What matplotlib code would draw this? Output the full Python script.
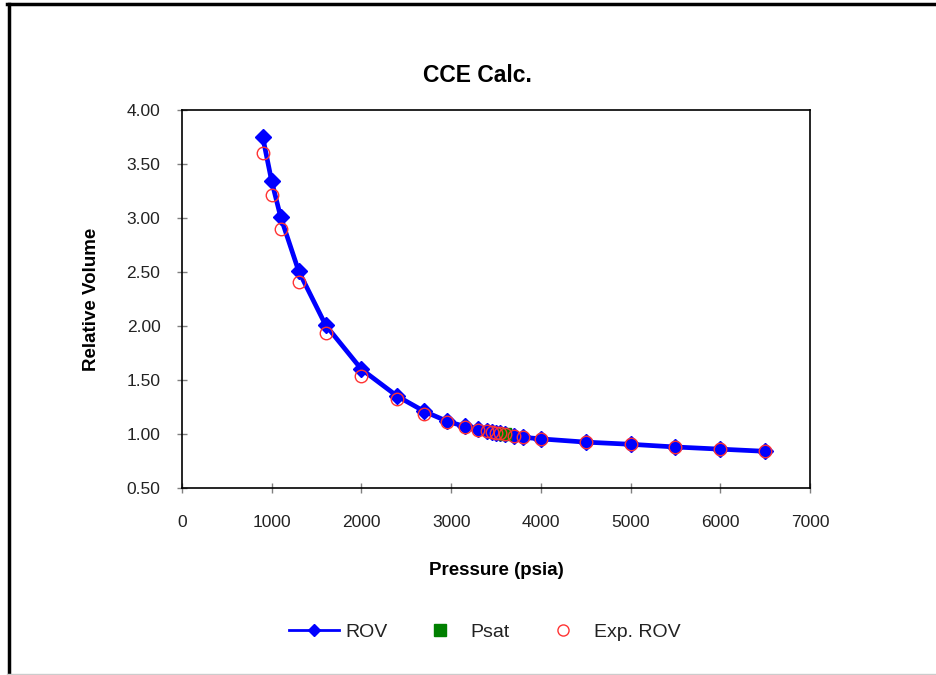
import matplotlib
matplotlib.use('Agg')
from matplotlib import pyplot as plt
from matplotlib.lines import Line2D

plt.rcParams['font.family'] = ['Liberation Sans', 'DejaVu Sans']

# calculated relative oil volume
pressure = [900, 1000, 1100, 1300, 1600, 2000, 2400, 2700, 2950, 3150, 3300,
            3400, 3450, 3500, 3550, 3600, 3700, 3800, 4000, 4500, 5000, 5500,
            6000, 6500]
rov = [3.75, 3.34, 3.01, 2.51, 2.01, 1.60, 1.35, 1.21, 1.12, 1.07, 1.045,
       1.03, 1.02, 1.01, 1.005, 1.00, 0.985, 0.97, 0.955, 0.925, 0.905, 0.88,
       0.86, 0.84]

# lab measurements
exp_rov = [3.60, 3.21, 2.90, 2.41, 1.94, 1.54, 1.32, 1.19, 1.11, 1.065, 1.04,
           1.03, 1.02, 1.01, 1.005, 1.00, 0.985, 0.97, 0.955, 0.925, 0.905,
           0.88, 0.86, 0.845]

psat_p = [3600]
psat_v = [1.00]

x_ticks = [0, 1000, 2000, 3000, 4000, 5000, 6000, 7000]
y_ticks = [0.5, 1.0, 1.5, 2.0, 2.5, 3.0, 3.5, 4.0]

fig = plt.figure(figsize=(9.37, 6.75), dpi=100)
ax = fig.add_axes([0.1942, 0.277, 0.6703, 0.560])

ax.plot(pressure, rov, color='#0000ff', lw=3.4, marker='D', ms=8,
        mfc='#0000ff', mec='#0000ff', zorder=2)
ax.plot(psat_p, psat_v, ls='none', marker='s', ms=9, color='#008000',
        zorder=3)
ax.plot(pressure, exp_rov, ls='none', marker='o', ms=9, mfc='none',
        mec='#ff3333', mew=1.0, zorder=4)

ax.set_xlim(0, 7000)
ax.set_ylim(0.5, 4.0)
ax.set_xticks(x_ticks)
ax.set_yticks(y_ticks)
ax.set_yticklabels([f'{v:.2f}' for v in y_ticks])
ax.tick_params(direction='inout', length=7, width=1, color='#808080',
               labelsize=12.5, labelcolor='#222222')
ax.tick_params(axis='x', pad=16)
ax.tick_params(axis='y', pad=12)
for sp in ax.spines.values():
    sp.set_color('black')
    sp.set_linewidth(1.2)

ax.set_xlabel('Pressure (psia)', fontsize=13.5, fontweight='bold', labelpad=23)
ax.set_ylabel('Relative Volume', fontsize=13.5, fontweight='bold', labelpad=19)
fig.text(0.510, 0.888, 'CCE Calc.', ha='center', va='center', fontsize=16.5,
         fontweight='bold')

# legend keys are drawn a little lighter than the plotted series
handles = [
    Line2D([], [], color='#0000ff', lw=2, marker='D', ms=6),
    Line2D([], [], ls='none', marker='s', ms=8, color='#008000'),
    Line2D([], [], ls='none', marker='o', ms=8, mfc='none', mec='#ff3333'),
]
fig.legend(handles, ['ROV', 'Psat', 'Exp. ROV'], loc='center',
           bbox_to_anchor=(0.517, 0.064), ncol=3, frameon=False,
           fontsize=14, handlelength=2.6, handletextpad=0.3,
           columnspacing=1.4, labelcolor='#222222')

# chart frame
fig.add_artist(Line2D([0.008, 1.0], [0.994, 0.994], color='black', lw=2.5,
                      transform=fig.transFigure))
fig.add_artist(Line2D([0.0095, 0.0095], [0.0, 0.994], color='black', lw=2.5,
                      transform=fig.transFigure))
fig.add_artist(Line2D([0.008, 1.0], [0.0015, 0.0015], color='#cccccc', lw=1,
                      transform=fig.transFigure))

fig.savefig('out.png', dpi=100)
